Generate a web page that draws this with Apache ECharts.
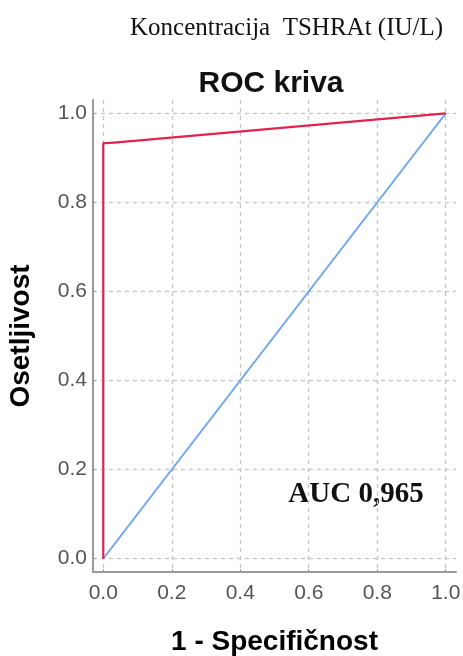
<!DOCTYPE html>
<html>
<head>
<meta charset="utf-8">
<script src="https://cdn.jsdelivr.net/npm/echarts@6/dist/echarts.min.js"></script>
<style>
html,body{margin:0;padding:0;background:#fff;}
#chart{width:463px;height:656px;}
</style>
</head>
<body>
<div id="chart"></div>
<script>
// ROC curve points (1 - specificity, sensitivity)
const rocX = [0, 0, 0.01, 0.04, 1];
const rocY = [0, 0.933, 0.933, 0.935, 1];
// Reference diagonal
const refX = [0, 1];
const refY = [0, 1];
// Tick values
const ticks = [0, 0.2, 0.4, 0.6, 0.8, 1.0];
const topText = 'Koncentracija  TSHRAt (IU/L)';
const chartTitle = 'ROC kriva';
const xName = '1 - Specifičnost';
const yName = 'Osetljivost';
const aucText = 'AUC 0,965';

const chart = echarts.init(document.getElementById('chart'));
const gridLine = {show: true, lineStyle: {color: '#c4c4c4', type: [4, 4], width: 1.3}};
const axisCommon = {
  type: 'value', min: -0.03, max: 1.03,
  axisLine: {show: true, onZero: false, lineStyle: {color: '#9a9a9a', width: 2}},
  axisTick: {show: true, inside: true, length: 3, customValues: ticks, lineStyle: {color: '#9a9a9a'}},
  axisLabel: {customValues: ticks, formatter: v => v.toFixed(1), color: '#555', fontSize: 21, fontFamily: 'Liberation Sans, Arial'},
  splitLine: gridLine,
  nameLocation: 'middle',
  nameTextStyle: {color: '#000', fontWeight: 'bold', fontFamily: 'Liberation Sans, Arial'}
};
chart.setOption({
  animation: false,
  backgroundColor: '#fff',
  grid: {left: 93, right: 7, top: 100, bottom: 84, outerBoundsMode: 'none', containLabel: false},
  xAxis: Object.assign({}, axisCommon, {
    name: xName, nameGap: 56,
    nameTextStyle: Object.assign({}, axisCommon.nameTextStyle, {fontSize: 28}),
    axisLabel: Object.assign({}, axisCommon.axisLabel, {margin: 11})
  }),
  yAxis: Object.assign({}, axisCommon, {
    name: yName, nameGap: 58,
    nameTextStyle: Object.assign({}, axisCommon.nameTextStyle, {fontSize: 28}),
    axisLabel: Object.assign({}, axisCommon.axisLabel, {margin: 6})
  }),
  graphic: [
    {type: 'text', left: 130, top: 16, style: {text: topText, font: '25px "Liberation Serif", "Times New Roman", serif', fill: '#111'}},
    {type: 'text', x: 271, y: 84, style: {text: chartTitle, font: 'bold 30px "Liberation Sans", Arial, sans-serif', fill: '#111', align: 'center', verticalAlign: 'middle'}},
    {type: 'text', x: 356, y: 495, style: {text: aucText, font: 'bold 29px "Liberation Serif", "Times New Roman", serif', fill: '#111', align: 'center', verticalAlign: 'middle'}}
  ],
  series: [
    {type: 'line', data: refX.map((x, i) => [x, refY[i]]), showSymbol: false, lineStyle: {color: '#6fa8ec', width: 1.8}, z: 2},
    {type: 'line', data: rocX.map((x, i) => [x, rocY[i]]), showSymbol: false, lineStyle: {color: '#e0234f', width: 2.2}, z: 3}
  ]
});
</script>
</body>
</html>
